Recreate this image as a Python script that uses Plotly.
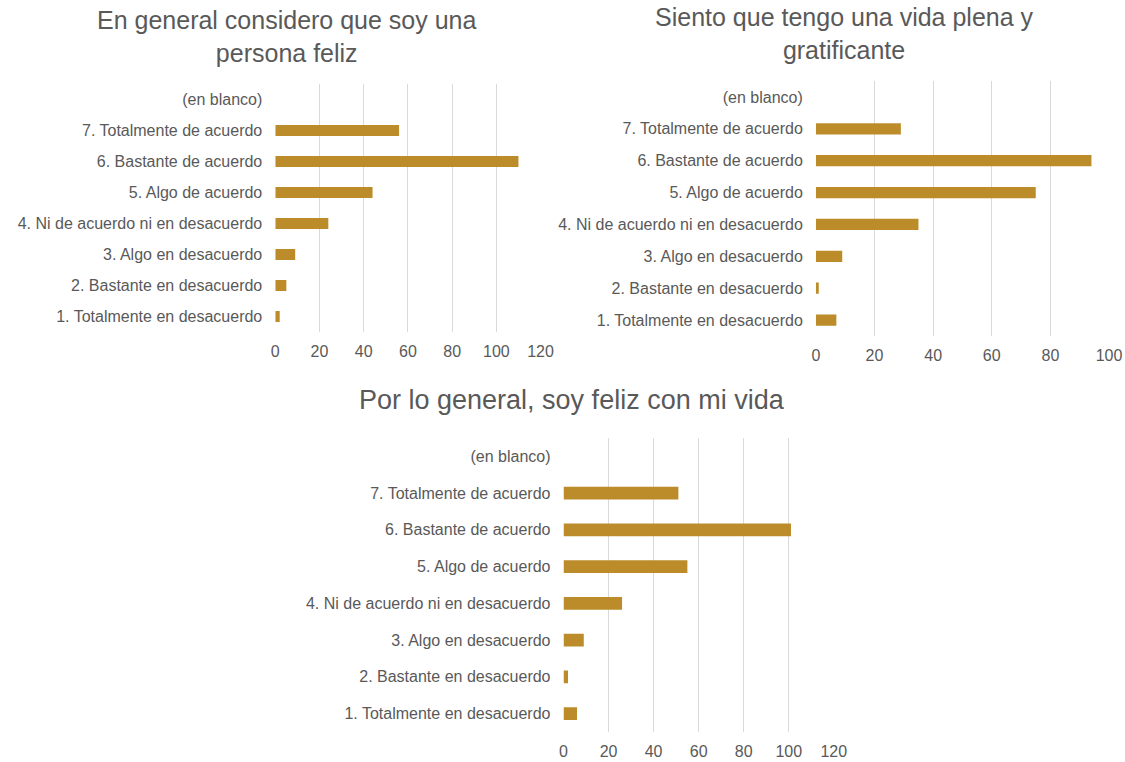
import plotly.graph_objects as go

categories = [
    "1. Totalmente en desacuerdo",
    "2. Bastante en desacuerdo",
    "3. Algo en desacuerdo",
    "4. Ni de acuerdo ni en desacuerdo",
    "5. Algo de acuerdo",
    "6. Bastante de acuerdo",
    "7. Totalmente de acuerdo",
    "(en blanco)",
]

values_feliz = [2, 5, 9, 24, 44, 110, 56, None]
values_plena = [7, 1, 9, 35, 75, 94, 29, None]
values_vida = [6, 2, 9, 26, 55, 101, 51, None]

title_feliz = "En general considero que soy una<br>persona feliz"
title_plena = "Siento que tengo una vida plena y<br>gratificante"
title_vida = "Por lo general, soy feliz con mi vida"

ticks_feliz = [0, 20, 40, 60, 80, 100, 120]
ticks_plena = [0, 20, 40, 60, 80, 100]
ticks_vida = [0, 20, 40, 60, 80, 100, 120]

BAR = "#BC8C2B"
TXT = "#595959"
GRID = "#D9D9D9"
FONT = "Liberation Sans, Arial, Helvetica, sans-serif"
W, H = 1125, 762      # reference pixel frame used for layout fractions
FIG_W = 1139          # rendered width (compensates horizontal capture scaling)

fig = go.Figure()
for vals, xa, ya in [(values_feliz, "x", "y"), (values_plena, "x2", "y2"), (values_vida, "x3", "y3")]:
    fig.add_trace(go.Bar(
        x=vals, y=categories, orientation="h", xaxis=xa, yaxis=ya,
        marker=dict(color=BAR, line=dict(width=0)), width=0.35,
        showlegend=False, hoverinfo="x+y",
    ))

def px_x(a, b):
    return [a / W, b / W]

def px_y(top, bottom):
    return [1 - bottom / H, 1 - top / H]

def xaxis(domain, rng, tickvals, anchor):
    return dict(
        domain=domain, range=rng, tickvals=tickvals, anchor=anchor,
        showgrid=True, gridcolor=GRID, gridwidth=1, zeroline=False,
        showline=False, ticks="", fixedrange=True, ticklabelstandoff=8,
        tickfont=dict(family=FONT, size=16, color=TXT),
    )

def yaxis(domain, anchor):
    return dict(
        domain=domain, anchor=anchor, type="category",
        categoryorder="array", categoryarray=categories,
        range=[-0.5, len(categories) - 0.5],
        showgrid=False, zeroline=False, showline=False, ticks="",
        ticklabelstandoff=12, fixedrange=True,
        tickfont=dict(family=FONT, size=16, color=TXT),
    )

def title(text, cx, cy, size):
    return dict(text=text, x=cx / W, y=1 - cy / H, xref="paper", yref="paper",
                xanchor="center", yanchor="middle", showarrow=False,
                font=dict(family=FONT, size=size, color=TXT))

fig.update_layout(
    width=FIG_W, height=H,
    margin=dict(l=0, r=0, t=0, b=0),
    paper_bgcolor="white", plot_bgcolor="white",
    xaxis=xaxis(px_x(272, 538), [0, 120], ticks_feliz, "y"),
    yaxis=yaxis(px_y(84, 332), "x"),
    xaxis2=xaxis(px_x(814, 1108), [0, 100], ticks_plena, "y2"),
    yaxis2=yaxis(px_y(81, 336), "x2"),
    xaxis3=xaxis(px_x(561, 832), [0, 120], ticks_vida, "y3"),
    yaxis3=yaxis(px_y(438, 732), "x3"),
    annotations=[
        title(title_feliz, 284, 36, 25),
        title(title_plena, 843, 33.5, 25),
        title(title_vida, 570, 400, 27),
    ],
)

fig.write_html(
    "out.html",
    config={"displayModeBar": False},
    post_script="document.body.style.margin='0';document.body.style.overflow='hidden';"
                "document.documentElement.style.overflow='hidden';",
)
